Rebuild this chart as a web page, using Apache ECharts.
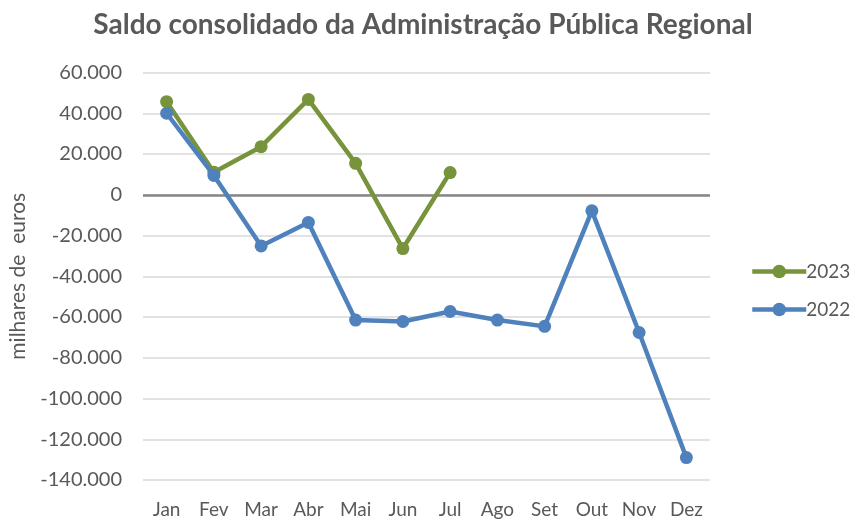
<!DOCTYPE html>
<html><head><meta charset="utf-8">
<script src="https://cdn.jsdelivr.net/npm/echarts@6/dist/echarts.min.js"></script>
<style>html,body{margin:0;padding:0;background:#fff}#c{width:850px;height:519px}</style>
</head><body><div id="c"></div>
<script>
const categories = ['Jan','Fev','Mar','Abr','Mai','Jun','Jul','Ago','Set','Out','Nov','Dez'];
const values2023 = [45700, 11000, 23600, 46800, 15400, -26400, 10900];
const values2022 = [40000, 9500, -25100, -13600, -61500, -62200, -57300, -61500, -64600, -7900, -67600, -129000];
const chart = echarts.init(document.getElementById('c'), null, {renderer:'canvas'});
const font = 'Lato, "Open Sans", sans-serif';
const fmt = v => v === 0 ? '0' : (v < 0 ? '-' : '') + Math.abs(v).toString().replace(/\B(?=(\d{3})+(?!\d))/g, '.');
chart.setOption({
  animation: false,
  title: {text: 'Saldo consolidado da Administração Pública Regional', left: 418, textAlign: 'center', top: 6,
    textStyle: {fontFamily: font, fontSize: 28, fontWeight: 'bold', color: '#595959'}},
  grid: {left: 143, right: 140, top: 72.5, bottom: 38},
  legend: {orient: 'vertical', left: 745, top: 257, itemGap: 19, itemWidth: 54, itemHeight: 17,
    textStyle: {fontFamily: font, fontSize: 19, color: '#595959', padding: [0,0,0,-5]},
    lineStyle: {width: 4.5},
    data: [{name: '2023', lineStyle: {width: 4.5}}, {name: '2022', lineStyle: {width: 4.5}}]},
  xAxis: {type: 'category', data: categories, boundaryGap: true,
    axisLine: {show: false}, axisTick: {show: false},
    axisLabel: {fontFamily: font, fontSize: 19, color: '#595959', margin: 20}},
  yAxis: {type: 'value', min: -140000, max: 60000, interval: 20000,
    name: 'milhares de  euros', nameLocation: 'middle', nameRotate: 90, nameGap: 114,
    nameTextStyle: {fontFamily: font, fontSize: 21, color: '#595959'},
    axisLine: {show: false}, axisTick: {show: false},
    axisLabel: {fontFamily: font, fontSize: 20, color: '#595959', margin: 21, formatter: fmt},
    splitLine: {lineStyle: {color: '#d9d9d9', width: 1.5}}},
  series: [
    {name: '2022', type: 'line', data: values2022, symbol: 'circle', symbolSize: 13,
      lineStyle: {width: 4.5, color: '#4F81BD'}, itemStyle: {color: '#4F81BD'}, z: 3,
      markLine: {silent: true, symbol: 'none', label: {show: false}, lineStyle: {color: '#868686', width: 2.5, type: 'solid'}, data: [{yAxis: 0}], z: 1}},
    {name: '2023', type: 'line', data: values2023, symbol: 'circle', symbolSize: 13,
      lineStyle: {width: 4.5, color: '#77933C'}, itemStyle: {color: '#77933C'}, z: 2}
  ]
});
</script></body></html>
